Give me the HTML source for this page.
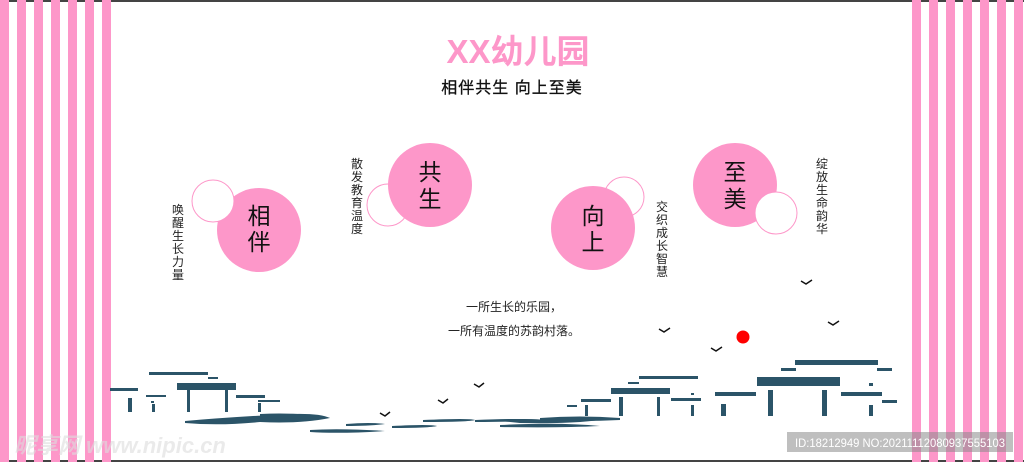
<!DOCTYPE html>
<html><head><meta charset="utf-8"><style>
html,body{margin:0;padding:0;background:#fff}
svg{display:block}
text{font-family:"Liberation Sans","Noto Sans CJK SC",sans-serif}
</style></head><body>
<svg width="1024" height="462" viewBox="0 0 1024 462" xmlns="http://www.w3.org/2000/svg">
<rect width="1024" height="462" fill="#fff"/>
<rect x="0" y="0" width="1024" height="2" fill="#444"/>
<rect x="0" y="460" width="1024" height="2" fill="#444"/>
<g fill="#fd97c9">
<rect x="0" y="0" width="9" height="462"/><rect x="17" y="0" width="9" height="462"/><rect x="34" y="0" width="9" height="462"/><rect x="51" y="0" width="9" height="462"/><rect x="68" y="0" width="9" height="462"/><rect x="85" y="0" width="9" height="462"/><rect x="102" y="0" width="9" height="462"/>
<rect x="912" y="0" width="9" height="462"/><rect x="929" y="0" width="9" height="462"/><rect x="946" y="0" width="9" height="462"/><rect x="963" y="0" width="9" height="462"/><rect x="980" y="0" width="9" height="462"/><rect x="997" y="0" width="9" height="462"/><rect x="1014" y="0" width="9" height="462"/>
</g>
<text x="518" y="63" text-anchor="middle" font-size="33" font-weight="bold" fill="#fd97c9">XX幼儿园</text>
<text x="512" y="93" text-anchor="middle" font-size="16" fill="#111" stroke="#111" stroke-width="0.3" letter-spacing="1">相伴共生  向上至美</text>

<circle cx="388" cy="205" r="21" fill="#fff" stroke="#fd97c9" stroke-width="1"/>
<circle cx="624" cy="197" r="20" fill="#fff" stroke="#fd97c9" stroke-width="1"/>
<circle cx="259" cy="230" r="42" fill="#fd97c9"/>
<circle cx="430" cy="185" r="42" fill="#fd97c9"/>
<circle cx="593" cy="228" r="42" fill="#fd97c9"/>
<circle cx="735" cy="185" r="42" fill="#fd97c9"/>
<circle cx="213" cy="201" r="21" fill="#fff" stroke="#fd97c9" stroke-width="1"/>
<circle cx="776" cy="213" r="21" fill="#fff" stroke="#fd97c9" stroke-width="1"/>
<g font-size="23" fill="#111" text-anchor="middle">
<text x="259" y="224">相</text><text x="259" y="250">伴</text>
<text x="430" y="180">共</text><text x="430" y="207">生</text>
<text x="593" y="224">向</text><text x="593" y="250">上</text>
<text x="735" y="180">至</text><text x="735" y="207">美</text>
</g>
<g font-size="12" fill="#222" text-anchor="middle">
<text x="178" y="214">唤</text><text x="178" y="227">醒</text><text x="178" y="240">生</text><text x="178" y="253">长</text><text x="178" y="266">力</text><text x="178" y="279">量</text>
<text x="357" y="168">散</text><text x="357" y="181">发</text><text x="357" y="194">教</text><text x="357" y="207">育</text><text x="357" y="220">温</text><text x="357" y="233">度</text>
<text x="662" y="211">交</text><text x="662" y="224">织</text><text x="662" y="237">成</text><text x="662" y="250">长</text><text x="662" y="263">智</text><text x="662" y="276">慧</text>
<text x="822" y="168">绽</text><text x="822" y="181">放</text><text x="822" y="194">生</text><text x="822" y="207">命</text><text x="822" y="220">韵</text><text x="822" y="233">华</text>
</g>
<text x="514" y="311" text-anchor="middle" font-size="12" fill="#222">一所生长的乐园，</text>
<text x="514" y="335" text-anchor="middle" font-size="12" fill="#222">一所有温度的苏韵村落。</text>

<circle cx="743" cy="337" r="6.5" fill="#f00"/>
<g fill="none" stroke="#111" stroke-width="1.5">
<path d="M801 281 l5 3 l6 -4"/><path d="M828 322 l5 3 l6 -4"/><path d="M659 329 l5 3 l6 -4"/><path d="M711 348 l5 3 l6 -4"/>
<path d="M474 384 l5 3 l5 -4"/><path d="M438 400 l5 3 l5 -4"/><path d="M380 413 l5 3 l5 -4"/>
</g>

<g fill="#2b5468">
<rect x="149" y="372" width="59" height="3"/><rect x="208" y="377" width="10" height="2"/>
<path d="M177 383 h59 v7 h-59z"/><rect x="110" y="388" width="28" height="3"/>
<rect x="146" y="395" width="20" height="2"/><rect x="236" y="395" width="29" height="3"/>
<rect x="258" y="400" width="22" height="2"/><rect x="151" y="401" width="3" height="2"/>
<rect x="128" y="398" width="4" height="14"/><rect x="152" y="404" width="3" height="8"/>
<rect x="187" y="390" width="3" height="22"/><rect x="225" y="390" width="3" height="22"/>
<rect x="258" y="403" width="3" height="9"/>
<path d="M185 421 Q230 417 290 414 Q320 413 330 418 Q300 424 260 422 Q220 426 185 423z"/>
<path d="M260 414 Q300 412 330 418 L260 418z"/>
<path d="M310 430 Q340 428 385 431 Q340 434 310 432z"/>
<path d="M346 424 Q370 422 385 424 Q370 426 346 426z"/>
<path d="M392 426 Q430 424 437 426 Q430 428 392 428z"/>
<path d="M423 420 Q470 418 475 420 Q470 422 423 422z"/>
<path d="M475 420 Q520 418 545 420 Q520 422 475 422z"/>
<path d="M490 420 Q530 418 546 420 Q570 416 600 420 Q570 424 520 423z"/>
<path d="M540 418 Q580 415 620 418 L620 420 Q580 422 540 420z"/>
<path d="M500 425 Q560 422 600 426 Q560 428 500 427z"/>
<rect x="795" y="360" width="83" height="5"/><rect x="781" y="368" width="15" height="3"/><rect x="877" y="368" width="15" height="3"/>
<path d="M757 377 h83 v9 h-83z"/><rect x="768" y="390" width="5" height="26"/><rect x="822" y="390" width="5" height="26"/>
<rect x="715" y="392" width="41" height="4"/><rect x="721" y="404" width="5" height="12"/>
<rect x="841" y="392" width="41" height="4"/><rect x="869" y="383" width="4" height="3"/><rect x="869" y="405" width="4" height="11"/><rect x="882" y="400" width="15" height="3"/>
<rect x="639" y="376" width="59" height="3"/><rect x="628" y="382" width="11" height="2"/>
<path d="M611 388 h59 v6 h-59z"/><rect x="619" y="397" width="4" height="19"/><rect x="657" y="397" width="3" height="19"/>
<rect x="671" y="398" width="30" height="3"/><rect x="691" y="393" width="3" height="2"/><rect x="691" y="405" width="3" height="11"/>
<rect x="581" y="399" width="30" height="3"/><rect x="585" y="405" width="3" height="11"/><rect x="567" y="405" width="10" height="2"/>
</g>

<rect x="787" y="432" width="226" height="20" fill="#8a8a8a" opacity="0.55"/>
<text x="900" y="447" text-anchor="middle" font-size="11.5" fill="#fff" textLength="210" lengthAdjust="spacingAndGlyphs">ID:18212949 NO:20211112080937555103</text>
<text x="14" y="453" font-size="22" font-weight="bold" font-style="italic" fill="#ddd" opacity="0.6">昵享网 www.nipic.cn</text>
</svg>
</body></html>
